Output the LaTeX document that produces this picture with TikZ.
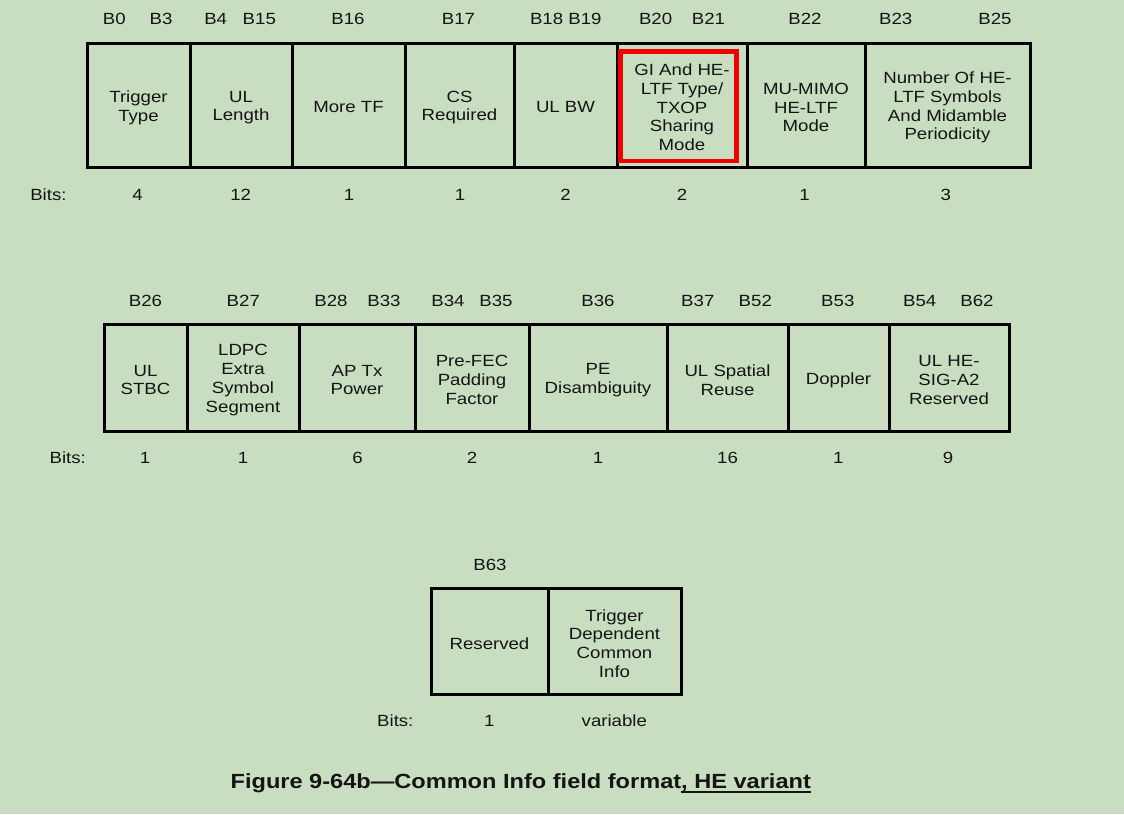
\documentclass[tikz,border=0pt]{standalone}
\usepackage{fontspec}
\setmainfont{Liberation Sans}[FakeStretch=1.15]
\definecolor{bg}{RGB}{201,222,192}
\definecolor{ink}{RGB}{20,20,20}
\definecolor{hl}{RGB}{240,0,0}
\newcommand\fcell[6]{%
  \node[cellbox, minimum width={#3-#2}, minimum height={#5-#4}] (#1) at ({(#2+#3)/2},{(#4+#5)/2}) {};
  \node[celltext] (#1-t) at ({(#2+#3)/2},{(#4+#5)/2+2.5}) {#6};}
\newcommand\myul[1]{\setbox0\hbox{#1}\rlap{\rule[-4.7pt]{\wd0}{2pt}}\box0}
\begin{document}
\begin{tikzpicture}[x=1pt,y=-1pt,
  cellbox/.style={draw=black, line width=3pt, inner sep=0pt},
  celltext/.style={align=center, inner sep=0pt,
    font=\fontsize{16.2}{18.7}\selectfont, text=ink},
  lbl/.style={anchor=base, inner sep=0pt, font=\fontsize{16.2}{18.7}\selectfont, text=ink},
  capt/.style={anchor=base, inner sep=0pt, font=\fontsize{20.5}{24}\selectfont\bfseries, text=ink},
  hlbox/.style={draw=hl, line width=4.3pt}
  ]
\useasboundingbox (0,0) rectangle (1124,814);
\fill[bg] (0,0) rectangle (1124,814);

% ---- top row
\fcell{tt}{87}{190}{43}{167}{Trigger\\Type}
\fcell{ull}{190}{292}{43}{167}{UL\\Length}
\fcell{mtf}{292}{405}{43}{167}{More TF}
\fcell{csr}{405}{514}{43}{167}{CS\\Required}
\fcell{ulbw}{514}{617}{43}{167}{UL BW}
\fcell{gi}{617}{747}{43}{167}{GI And HE-\\LTF Type/\\TXOP\\Sharing\\Mode}
\fcell{mum}{747}{865}{43}{167}{MU-MIMO\\HE-LTF\\Mode}
\fcell{nhe}{865}{1030}{43}{167}{Number Of HE-\\LTF Symbols\\And Midamble\\Periodicity}
\node[hlbox, minimum width=116, minimum height=109.5, inner sep=0pt] (hl) at (678.5,106.25) {};

\node[lbl] (t0) at (114.3,24) {B0};
\node[lbl] (t3) at (161,24) {B3};
\node[lbl] (t4) at (215.7,24) {B4};
\node[lbl] (t15) at (259.3,24) {B15};
\node[lbl] (t16) at (348,24) {B16};
\node[lbl] (t17) at (458.5,24) {B17};
\node[lbl] (t18) at (565.8,24) {B18 B19};
\node[lbl] (t20) at (655.6,24) {B20};
\node[lbl] (t21) at (708.4,24) {B21};
\node[lbl] (t22) at (805,24) {B22};
\node[lbl] (t23) at (895.7,24) {B23};
\node[lbl] (t25) at (995,24) {B25};

\node[lbl] (tbits) at (48.4,200) {Bits:};
\node[lbl] (tn1) at (137.5,200) {4};
\node[lbl] (tn2) at (240.7,200) {12};
\node[lbl] (tn3) at (349,200) {1};
\node[lbl] (tn4) at (460,200) {1};
\node[lbl] (tn5) at (565.5,200) {2};
\node[lbl] (tn6) at (682,200) {2};
\node[lbl] (tn7) at (804.5,200) {1};
\node[lbl] (tn8) at (945.7,200) {3};

% ---- middle row
\fcell{stbc}{104}{187}{324}{431}{UL\\STBC}
\fcell{ldpc}{187}{299}{324}{431}{LDPC\\Extra\\Symbol\\Segment}
\fcell{aptx}{299}{415}{324}{431}{AP Tx\\Power}
\fcell{pfec}{415}{529}{324}{431}{Pre-FEC\\Padding\\Factor}
\fcell{pe}{529}{667}{324}{431}{PE\\Disambiguity}
\fcell{ulsr}{667}{788}{324}{431}{UL Spatial\\Reuse}
\fcell{dop}{788}{889}{324}{431}{Doppler}
\fcell{sig}{889}{1009}{324}{431}{UL HE-\\SIG-A2\\Reserved}

\node[lbl] (m26) at (145.5,306.7) {B26};
\node[lbl] (m27) at (243.3,306.7) {B27};
\node[lbl] (m28) at (331,306.7) {B28};
\node[lbl] (m33) at (384,306.7) {B33};
\node[lbl] (m34) at (448,306.7) {B34};
\node[lbl] (m35) at (496,306.7) {B35};
\node[lbl] (m36) at (598,306.7) {B36};
\node[lbl] (m37) at (697.8,306.7) {B37};
\node[lbl] (m52) at (755.3,306.7) {B52};
\node[lbl] (m53) at (837.8,306.7) {B53};
\node[lbl] (m54) at (919.7,306.7) {B54};
\node[lbl] (m62) at (977,306.7) {B62};

\node[lbl] (mbits) at (67.7,463.3) {Bits:};
\node[lbl] (mn1) at (145,463.3) {1};
\node[lbl] (mn2) at (243,463.3) {1};
\node[lbl] (mn3) at (357.5,463.3) {6};
\node[lbl] (mn4) at (472,463.3) {2};
\node[lbl] (mn5) at (598,463.3) {1};
\node[lbl] (mn6) at (727.5,463.3) {16};
\node[lbl] (mn7) at (838.3,463.3) {1};
\node[lbl] (mn8) at (948,463.3) {9};

% ---- bottom row
\fcell{res}{431}{548}{588}{694}{Reserved}
\fcell{tdci}{548}{681}{588}{694}{Trigger\\Dependent\\Common\\Info}

\node[lbl] (b63) at (490,570) {B63};
\node[lbl] (bbits) at (395.3,726) {Bits:};
\node[lbl] (bn1) at (489.4,726) {1};
\node[lbl] (bn2) at (614.3,726) {variable};

% ---- caption
\node[capt] (cap) at (520.8,788) {Figure 9-64b—Common Info field format\myul{, HE variant}};
\end{tikzpicture}
\end{document}
